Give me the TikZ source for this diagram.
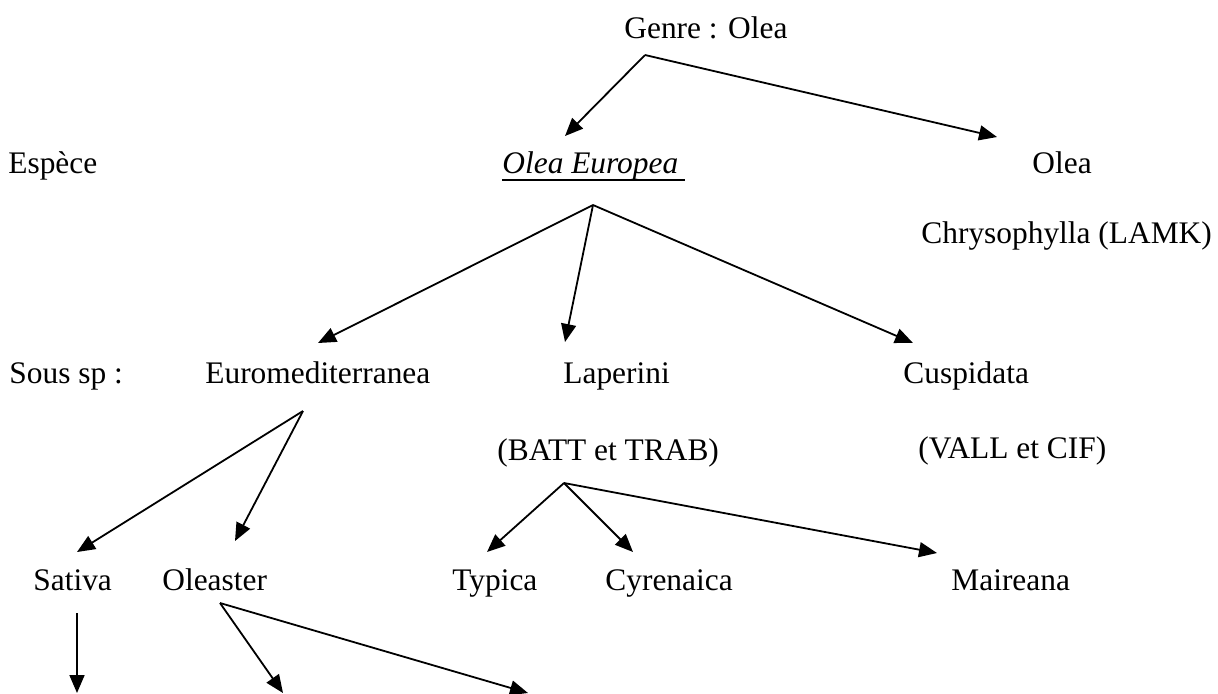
\documentclass[tikz,border=0pt]{standalone}
\usepackage{fontspec}
\setmainfont{Liberation Serif}
\usetikzlibrary{arrows.meta,calc}

\begin{document}
\begin{tikzpicture}[x=0.5pt, y=-0.5pt,
    txt/.style={anchor=base west, inner sep=0pt, font=\fontsize{15.7}{18}\selectfont},
    arr/.style={-{Triangle[length=9pt,width=7.5pt]}, line width=0.9pt}]
    \useasboundingbox (0,0) rectangle (1218,693);

    % Genre
    \node[txt] (genre) at (624, 38) {Genre : Olea};

    % Especes
    \node[txt] (espece)  at (8, 173)    {Esp\`ece};
    \node[txt] (europea) at (502, 173)  {\textit{Olea Europea}};
    \node[txt] (olea)    at (1032, 173) {Olea};
    \node[txt] (chryso)  at (921, 243)  {Chrysophylla (LAMK)};
    \draw[line width=0.9pt] ($(europea.base west)+(0,7)$) -- ++(183,0);  % underline

    % Sous especes
    \node[txt] (soussp)    at (9, 383)   {Sous sp :};
    \node[txt] (euromed)   at (205, 383) {Euromediterranea};
    \node[txt] (laperini)  at (563, 383) {Laperini};
    \node[txt] (cuspidata) at (903, 383) {Cuspidata};
    \node[txt] (batt)      at (497, 460) {(BATT et TRAB)};
    \node[txt] (vall)      at (918, 458) {(VALL et CIF)};

    % Varietes
    \node[txt] (sativa)    at (33, 590)  {Sativa};
    \node[txt] (oleaster)  at (162, 590) {Oleaster};
    \node[txt] (typica)    at (452, 590) {Typica};
    \node[txt] (cyrenaica) at (605, 590) {Cyrenaica};
    \node[txt] (maireana)  at (951, 590) {Maireana};

    % Points de depart des fleches
    \coordinate (genrefork)    at ($(genre.base west)+(21,17)$);
    \coordinate (europeafork)  at ($(europea.base west)+(91,32)$);
    \coordinate (euromedfork)  at ($(euromed.base west)+(98,28)$);
    \coordinate (battfork)     at ($(batt.base west)+(67,23)$);
    \coordinate (sativafork)   at ($(sativa.base west)+(44,23)$);
    \coordinate (oleasterfork) at ($(oleaster.base west)+(58,13)$);
    \coordinate (sativaend)    at (77, 693);
    \coordinate (oleasterendA) at (283, 693);
    \coordinate (oleasterendB) at (528, 693);

    \draw[arr] (genrefork) -- ($(europea.base west)+(63,-37)$);
    \draw[arr] (genrefork) -- ($(olea.base west)+(-35,-36)$);

    \draw[arr] (europeafork) -- ($(euromed.base west)+(113,-40)$);
    \draw[arr] (europeafork) -- ($(laperini.base west)+(2,-41)$);
    \draw[arr] (europeafork) -- ($(cuspidata.base west)+(10,-40)$);

    \draw[arr] (euromedfork) -- ($(sativa.base west)+(44,-38)$);
    \draw[arr] (euromedfork) -- ($(oleaster.base west)+(73,-49)$);

    \draw[arr] (battfork) -- ($(typica.base west)+(35,-38)$);
    \draw[arr] (battfork) -- ($(cyrenaica.base west)+(28,-38)$);
    \draw[arr] (battfork) -- ($(maireana.base west)+(-14,-37)$);

    \draw[arr] (sativafork) -- (sativaend);
    \draw[arr] (oleasterfork) -- (oleasterendA);
    \draw[arr] (oleasterfork) -- (oleasterendB);
\end{tikzpicture}
\end{document}
